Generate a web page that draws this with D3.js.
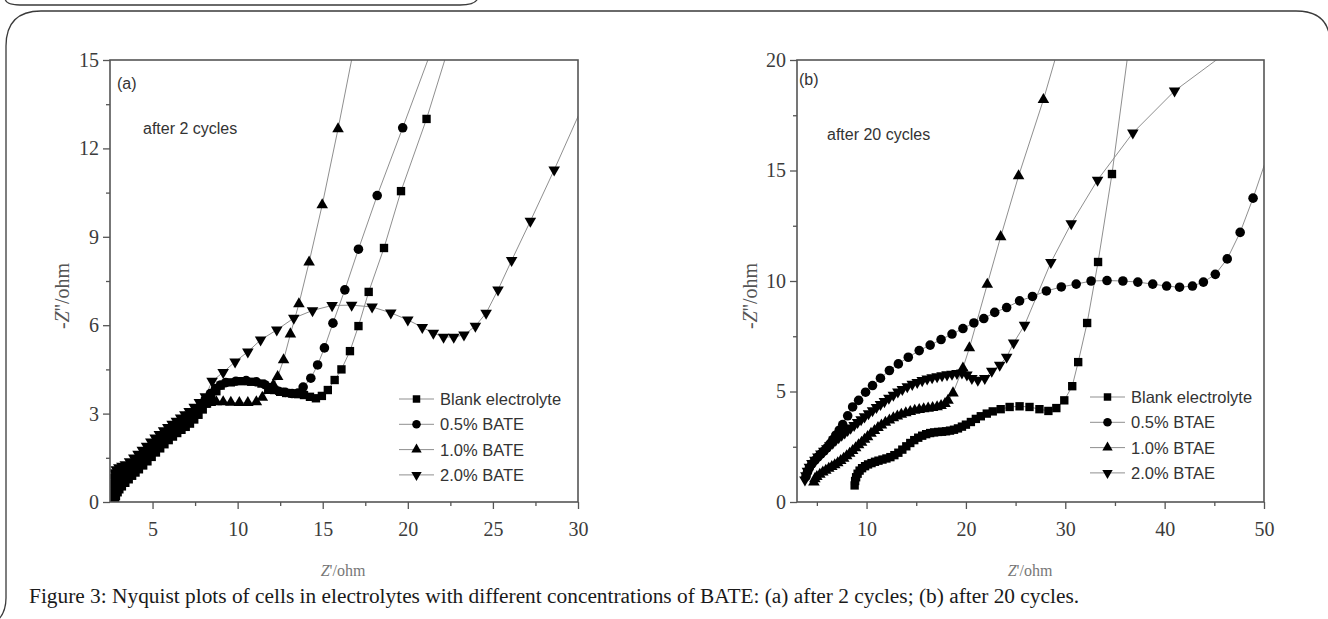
<!DOCTYPE html>
<html lang="en">
<head>
  <meta charset="utf-8">
  <title>Nyquist plots</title>
  <script type="text/javascript" src="https://d3js.org/d3.v7.min.js"></script>
  <style type="text/css">
    body { margin: 0; background: #fff; }
    .frame { fill: none; stroke: #3a3a3a; stroke-width: 1.3; }
    .plotBox { fill: none; stroke: #555; stroke-width: 1.6; }
    .axis path { display: none; }
    .axis line { stroke: #555; stroke-width: 1.3; }
    .axis text { font-family: "Liberation Serif", "Times New Roman", serif; font-size: 20px; fill: #3c3c3c; }
    .dataLine { fill: none; stroke: #8f8f8f; stroke-width: 1; }
    .marker { fill: #000; }
    .note { font-family: "Liberation Sans", Arial, sans-serif; font-size: 16px; fill: #333; }
    .legendText { font-family: "Liberation Sans", Arial, sans-serif; font-size: 16.5px; fill: #333; }
    .yTitle { font-family: "Liberation Serif", serif; font-size: 20px; fill: #555; }
    .xTitle { font-family: "Liberation Serif", serif; font-size: 16px; fill: #777; }
    .caption { font-family: "Liberation Serif", serif; fill: #1a1a1a; }
  </style>
</head>
<body>
  <script type="text/javascript">
  // Data: [Z' , -Z'']

  // panel (a), after 2 cycles
  var namesA = ["Blank electrolyte", "0.5% BATE", "1.0% BATE", "2.0% BATE"];
  var blankA = [[2.8,0.05],[2.85,0.2],[2.95,0.33],[3.05,0.43],[3.2,0.53],[3.4,0.65],[3.6,0.77],[3.8,0.89],[4.0,1.0],[4.2,1.11],[4.45,1.24],[4.7,1.38],[4.95,1.53],[5.2,1.68],[5.45,1.82],[5.7,1.96],[5.95,2.1],[6.2,2.22],[6.45,2.34],[6.7,2.45],[6.95,2.55],[7.2,2.66],[7.45,2.8],[7.7,2.96],[7.95,3.14],[8.2,3.34],[8.45,3.55],[8.75,3.76],[9.0,3.95],[9.6,4.06],[10.2,4.1],[10.8,4.08],[11.4,4.02],[11.8,3.9],[12.15,3.8],[12.5,3.74],[12.85,3.7],[13.2,3.68],[13.55,3.66],[13.9,3.63],[14.25,3.57],[14.6,3.52],[14.95,3.6],[15.3,3.8],[15.7,4.14],[16.1,4.5],[16.6,5.12],[17.1,5.97],[17.7,7.13],[18.6,8.62],[19.6,10.55],[21.1,13.0],[22.6,15.8]];
  var halfA = [[2.7,0.12],[2.75,0.35],[2.82,0.52],[2.92,0.65],[3.05,0.75],[3.2,0.82],[3.4,0.9],[3.6,1.0],[3.85,1.13],[4.1,1.27],[4.35,1.41],[4.6,1.55],[4.85,1.69],[5.1,1.83],[5.35,1.97],[5.6,2.1],[5.85,2.22],[6.1,2.34],[6.35,2.46],[6.6,2.58],[6.85,2.7],[7.1,2.82],[7.35,2.96],[7.6,3.12],[7.85,3.3],[8.1,3.48],[8.4,3.68],[8.7,3.85],[9.0,3.97],[9.3,4.05],[9.9,4.1],[10.5,4.12],[11.1,4.08],[11.6,3.98],[12.0,3.85],[12.4,3.76],[12.8,3.72],[13.2,3.68],[13.55,3.7],[13.85,3.9],[14.3,4.2],[14.7,4.65],[15.1,5.23],[15.6,6.07],[16.3,7.2],[17.1,8.58],[18.2,10.4],[19.7,12.7],[21.5,15.5]];
  var oneA = [[2.6,0.1],[2.63,0.35],[2.68,0.58],[2.76,0.78],[2.88,0.9],[3.03,0.98],[3.2,1.03],[3.4,1.09],[3.65,1.2],[3.9,1.33],[4.15,1.46],[4.4,1.59],[4.65,1.72],[4.9,1.86],[5.15,2.0],[5.4,2.13],[5.65,2.26],[5.9,2.38],[6.15,2.5],[6.4,2.62],[6.65,2.74],[6.9,2.86],[7.15,2.97],[7.45,3.1],[7.75,3.22],[8.05,3.31],[8.4,3.37],[8.75,3.4],[9.15,3.4],[9.6,3.38],[10.1,3.37],[10.6,3.37],[11.1,3.4],[11.45,3.55],[11.8,3.78],[12.1,3.97],[12.35,4.25],[12.7,4.82],[13.1,5.7],[13.6,6.72],[14.2,8.14],[14.97,10.08],[15.9,12.66],[16.9,15.6]];
  var twoA = [[2.6,0.35],[2.62,0.62],[2.67,0.85],[2.75,1.0],[2.87,1.1],[3.02,1.17],[3.2,1.22],[3.4,1.27],[3.65,1.37],[3.9,1.5],[4.15,1.63],[4.4,1.76],[4.65,1.9],[4.9,2.04],[5.15,2.18],[5.4,2.3],[5.65,2.42],[5.9,2.53],[6.15,2.64],[6.4,2.75],[6.65,2.86],[6.9,2.97],[7.15,3.08],[7.45,3.22],[7.75,3.38],[8.1,3.58],[8.5,4.1],[9.15,4.4],[9.85,4.76],[10.6,5.1],[11.35,5.5],[12.3,5.84],[13.3,6.24],[14.4,6.5],[15.55,6.67],[16.7,6.68],[17.9,6.62],[19.0,6.42],[20.0,6.18],[20.85,5.93],[21.5,5.73],[22.1,5.6],[22.7,5.6],[23.3,5.67],[23.97,5.97],[24.6,6.41],[25.3,7.2],[26.1,8.2],[27.2,9.53],[28.6,11.27],[30.4,13.6]];
  var xTicksA = [5, 10, 15, 20, 25, 30];
  var xMinorA = [7.5, 12.5, 17.5, 22.5, 27.5];
  var yTicksA = [0, 3, 6, 9, 12, 15];
  var yMinorA = [1.5, 4.5, 7.5, 10.5, 13.5];

  // panel (b), after 20 cycles
  var namesB = ["Blank electrolyte", "0.5% BTAE", "1.0% BTAE", "2.0% BTAE"];
  var blankB = [[8.8,0.75],[8.85,0.95],[8.95,1.12],[9.1,1.28],[9.3,1.42],[9.55,1.53],[9.85,1.62],[10.15,1.7],[10.5,1.76],[10.85,1.82],[11.2,1.87],[11.6,1.92],[12.0,1.97],[12.4,2.03],[12.8,2.12],[13.2,2.23],[13.6,2.37],[14.0,2.52],[14.4,2.67],[14.8,2.8],[15.2,2.91],[15.6,3.0],[16.0,3.07],[16.4,3.12],[16.8,3.15],[17.2,3.17],[17.6,3.18],[18.0,3.2],[18.4,3.23],[18.8,3.27],[19.2,3.33],[19.6,3.41],[20.0,3.5],[20.5,3.62],[21.0,3.76],[21.5,3.88],[22.1,4.0],[22.7,4.1],[23.5,4.2],[24.4,4.3],[25.4,4.33],[26.4,4.3],[27.4,4.2],[28.3,4.12],[29.1,4.25],[29.9,4.6],[30.7,5.24],[31.3,6.33],[32.2,8.1],[33.3,10.86],[34.7,14.84],[36.4,20.6]];
  var halfB = [[3.9,1.15],[4.05,1.35],[4.25,1.55],[4.5,1.72],[4.8,1.88],[5.1,2.03],[5.4,2.17],[5.7,2.3],[6.0,2.45],[6.3,2.62],[6.6,2.82],[6.9,3.02],[7.25,3.25],[7.6,3.5],[8.1,3.9],[8.6,4.3],[9.2,4.6],[9.9,4.97],[10.6,5.27],[11.4,5.6],[12.3,5.95],[13.2,6.25],[14.2,6.55],[15.3,6.85],[16.4,7.1],[17.5,7.35],[18.6,7.6],[19.7,7.85],[20.8,8.1],[21.8,8.3],[22.9,8.58],[24.1,8.8],[25.4,9.1],[26.7,9.3],[28.1,9.55],[29.6,9.73],[31.1,9.86],[32.6,10.0],[34.2,10.02],[35.8,10.0],[37.3,9.95],[38.8,9.86],[40.2,9.77],[41.5,9.72],[42.8,9.77],[43.9,9.95],[45.1,10.3],[46.3,11.0],[47.6,12.2],[48.9,13.75],[50.6,16.0]];
  var oneB = [[4.7,0.9],[4.8,1.05],[5.0,1.15],[5.3,1.25],[5.6,1.35],[5.9,1.43],[6.2,1.52],[6.5,1.6],[6.8,1.68],[7.1,1.77],[7.4,1.87],[7.7,1.97],[8.0,2.08],[8.3,2.2],[8.6,2.32],[8.9,2.45],[9.2,2.58],[9.5,2.7],[9.8,2.83],[10.1,2.95],[10.45,3.1],[10.8,3.23],[11.15,3.36],[11.5,3.48],[11.9,3.6],[12.3,3.7],[12.7,3.8],[13.1,3.88],[13.5,3.96],[13.95,4.03],[14.4,4.09],[14.85,4.14],[15.3,4.18],[15.75,4.21],[16.2,4.24],[16.65,4.27],[17.1,4.3],[17.5,4.36],[17.9,4.45],[18.2,4.6],[18.7,4.93],[19.7,6.06],[20.35,6.97],[22.15,9.85],[23.5,12.0],[25.3,14.75],[27.8,18.2],[29.6,21.0]];
  var twoB = [[3.8,1.0],[3.9,1.2],[4.05,1.4],[4.25,1.58],[4.5,1.75],[4.8,1.9],[5.1,2.04],[5.4,2.18],[5.7,2.3],[6.0,2.42],[6.3,2.55],[6.6,2.67],[6.9,2.8],[7.2,2.92],[7.5,3.03],[7.8,3.13],[8.1,3.24],[8.4,3.35],[8.75,3.47],[9.1,3.6],[9.45,3.73],[9.8,3.86],[10.2,4.0],[10.6,4.14],[11.0,4.28],[11.4,4.42],[11.8,4.55],[12.25,4.7],[12.7,4.84],[13.15,4.98],[13.6,5.1],[14.1,5.22],[14.6,5.33],[15.1,5.42],[15.6,5.5],[16.1,5.57],[16.6,5.63],[17.1,5.68],[17.6,5.72],[18.1,5.76],[18.6,5.79],[19.1,5.82],[19.6,5.84],[20.1,5.75],[20.6,5.6],[21.2,5.52],[21.9,5.6],[22.6,5.92],[23.4,6.2],[24.1,6.56],[24.8,7.2],[25.9,8.0],[28.55,10.84],[30.6,12.6],[33.25,14.57],[36.8,16.7],[41.0,18.6],[47.0,20.6]];
  var xTicksB = [10, 20, 30, 40, 50];
  var xMinorB = [5, 15, 25, 35, 45];
  var yTicksB = [0, 5, 10, 15, 20];
  var yMinorB = [2.5, 7.5, 12.5, 17.5];

  var captionText = "Figure 3: Nyquist plots of cells in electrolytes with different concentrations of BATE: (a) after 2 cycles; (b) after 20 cycles.";

  var w = 1328;
  var h = 619;

  // marker shapes, one per series
  var shapes = [
    { type: d3.symbolSquare, size: 70, rot: 0 },
    { type: d3.symbolCircle, size: 72, rot: 0 },
    { type: d3.symbolTriangle, size: 58, rot: 0 },
    { type: d3.symbolTriangle, size: 58, rot: 180 }
  ];

  var svg = d3.select("body").append("svg")
    .attr("width", w)
    .attr("height", h);

  // page frames
  svg.append("path").attr("class", "frame")
    .attr("d", "M5,-2 Q5,5 20,5 L460,5 Q477,5 478,-3");
  svg.append("path").attr("class", "frame")
    .attr("d", "M6,598 L6,46 Q6,11 41,11 L1296,11 Q1328,11 1330,40");
  svg.append("path").attr("class", "frame")
    .attr("d", "M6,598 Q6,612 -2,620");

  var drawPanel = function(cfg) {
    var xScale = d3.scaleLinear().domain(cfg.xDomain).range([cfg.left, cfg.right]);
    var yScale = d3.scaleLinear().domain(cfg.yDomain).range([cfg.bottom, cfg.top]);

    var g = svg.append("g");

    g.append("clipPath").attr("id", cfg.id + "clip")
      .append("rect")
      .attr("x", cfg.left).attr("y", cfg.top)
      .attr("width", cfg.right - cfg.left).attr("height", cfg.bottom - cfg.top);

    // axes
    g.append("g").attr("class", "axis")
      .attr("transform", "translate(0," + cfg.bottom + ")")
      .call(d3.axisBottom(xScale).tickValues(cfg.xTicks).tickSize(7).tickPadding(13).tickFormat(d3.format("d")));
    g.append("g").attr("class", "axis")
      .attr("transform", "translate(0," + cfg.bottom + ")")
      .call(d3.axisBottom(xScale).tickValues(cfg.xMinor).tickSize(4).tickFormat(""));
    g.append("g").attr("class", "axis")
      .attr("transform", "translate(" + cfg.left + ",0)")
      .call(d3.axisLeft(yScale).tickValues(cfg.yTicks).tickSize(7).tickPadding(4).tickFormat(d3.format("d")));
    g.append("g").attr("class", "axis")
      .attr("transform", "translate(" + cfg.left + ",0)")
      .call(d3.axisLeft(yScale).tickValues(cfg.yMinor).tickSize(4).tickFormat(""));

    var plot = g.append("g").attr("clip-path", "url(#" + cfg.id + "clip)");

    var line = d3.line()
      .x(function(d) { return xScale(d[0]); })
      .y(function(d) { return yScale(d[1]); });

    cfg.series.forEach(function(s, i) {
      plot.append("path").datum(s).attr("class", "dataLine").attr("d", line);
    });

    cfg.series.forEach(function(s, i) {
      var shp = shapes[i];
      plot.selectAll(".m" + i)
        .data(s)
        .enter()
        .append("path")
        .attr("class", "marker m" + i)
        .attr("d", d3.symbol().type(shp.type).size(shp.size))
        .attr("transform", function(d) {
          return "translate(" + xScale(d[0]) + "," + yScale(d[1]) + ") rotate(" + shp.rot + ")";
        });
    });

    g.append("rect").attr("class", "plotBox")
      .attr("x", cfg.left).attr("y", cfg.top)
      .attr("width", cfg.right - cfg.left).attr("height", cfg.bottom - cfg.top);

    // labels inside the plot
    g.append("text").attr("class", "note").attr("x", cfg.tagX).attr("y", cfg.tagY).text(cfg.tag);
    g.append("text").attr("class", "note").attr("x", cfg.noteX).attr("y", cfg.noteY).text(cfg.note);

    // legend
    cfg.names.forEach(function(name, i) {
      var ly = cfg.legendY + i * 25.3;
      g.append("line").attr("class", "dataLine")
        .attr("x1", cfg.legendX).attr("x2", cfg.legendX + 35)
        .attr("y1", ly).attr("y2", ly);
      g.append("path").attr("class", "marker")
        .attr("d", d3.symbol().type(shapes[i].type).size(shapes[i].size * 0.8))
        .attr("transform", "translate(" + (cfg.legendX + 17.5) + "," + ly + ") rotate(" + shapes[i].rot + ")");
      g.append("text").attr("class", "legendText")
        .attr("x", cfg.legendX + 41).attr("y", ly)
        .attr("dy", "0.36em")
        .text(name);
    });

    // axis titles
    var yt = g.append("text").attr("class", "yTitle")
      .attr("text-anchor", "middle")
      .attr("transform", "translate(" + cfg.yTitleX + "," + cfg.yTitleY + ") rotate(-90)")
      .attr("dy", "0.35em");
    yt.append("tspan").text("-");
    yt.append("tspan").attr("font-style", "italic").text("Z");
    yt.append("tspan").text("''/ohm");

    var xt = g.append("text").attr("class", "xTitle")
      .attr("text-anchor", "middle")
      .attr("x", cfg.xTitleX).attr("y", cfg.xTitleY);
    xt.append("tspan").attr("font-style", "italic").text("Z");
    xt.append("tspan").text("'/ohm");
  };

  drawPanel({
    id: "a", left: 110, right: 578, top: 60, bottom: 502,
    xDomain: [2.5, 30], yDomain: [0, 15],
    xTicks: xTicksA, xMinor: xMinorA, yTicks: yTicksA, yMinor: yMinorA,
    series: [blankA, halfA, oneA, twoA], names: namesA,
    tag: "(a)", tagX: 117, tagY: 89,
    note: "after 2 cycles", noteX: 143, noteY: 134,
    legendX: 399, legendY: 399,
    yTitleX: 62, yTitleY: 296, xTitleX: 343, xTitleY: 576
  });

  drawPanel({
    id: "b", left: 797, right: 1264, top: 60, bottom: 502,
    xDomain: [3, 50], yDomain: [0, 20],
    xTicks: xTicksB, xMinor: xMinorB, yTicks: yTicksB, yMinor: yMinorB,
    series: [blankB, halfB, oneB, twoB], names: namesB,
    tag: "(b)", tagX: 799, tagY: 85,
    note: "after 20 cycles", noteX: 827, noteY: 140,
    legendX: 1090, legendY: 397,
    yTitleX: 750, yTitleY: 296, xTitleX: 1030, xTitleY: 576
  });

  // caption, sized to span the same width as in the figure
  var cap = svg.append("text").attr("class", "caption")
    .attr("x", 29).attr("y", 603)
    .style("font-size", "20px")
    .text(captionText);
  var capLen = cap.node().getComputedTextLength();
  cap.style("font-size", (20 * 1050 / capLen).toFixed(2) + "px");
  </script>
</body>
</html>
